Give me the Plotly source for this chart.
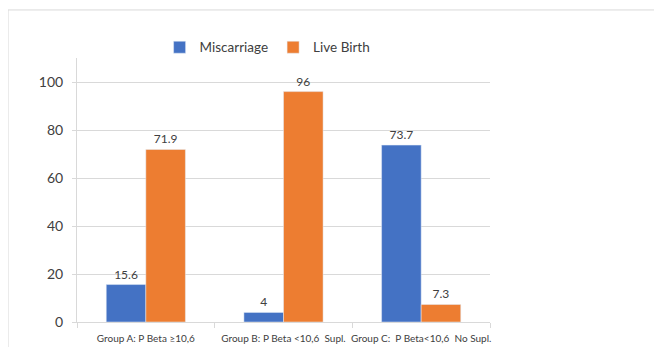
import plotly.graph_objects as go

categories = ["Group A: P Beta \u226510,6",
              "Group B: P Beta <10,6\u00a0\u00a0Supl.",
              "Group C:\u00a0\u00a0P Beta<10,6\u00a0\u00a0No Supl."]
miscarriage = [15.6, 4, 73.7]
live_birth = [71.9, 96, 7.3]
mis_labels = ["15.6", "4", "73.7"]
live_labels = ["71.9", "96", "7.3"]

FONT = "Lato, 'Open Sans', sans-serif"

fig = go.Figure()
fig.add_trace(go.Bar(x=categories, y=miscarriage, name="Miscarriage",
                     marker_color="#4472C4", text=mis_labels, textposition="outside",
                     textfont=dict(size=12, color="#404040"), cliponaxis=False))
fig.add_trace(go.Bar(x=categories, y=live_birth, name="Live Birth",
                     marker_color="#ED7D31", text=live_labels, textposition="outside",
                     textfont=dict(size=12, color="#404040"), cliponaxis=False))

fig.update_layout(
    width=662, height=347,
    margin=dict(l=69, r=180, t=50, b=33),
    paper_bgcolor="white", plot_bgcolor="white",
    barmode="group", bargap=0.425, bargroupgap=0,
    font=dict(family=FONT, color="#404040"),
    showlegend=True,
    legend=dict(orientation="h", x=0.20, y=1.04, xanchor="left", yanchor="middle",
                font=dict(size=13.5, color="#404040"), itemwidth=30, tracegroupgap=0,
                bgcolor="rgba(0,0,0,0)"),
    xaxis=dict(showline=True, linecolor="#d9d9d9", linewidth=1,
               ticks="outside", tickson="boundaries", ticklen=5, tickcolor="#d9d9d9",
               tickangle=0, automargin=False, ticklabelstandoff=7,
               tickfont=dict(size=10, color="#404040"), showgrid=False),
    yaxis=dict(range=[0, 110], dtick=20, tick0=0, showline=True, linecolor="#d9d9d9",
               gridcolor="#d9d9d9", zeroline=False, ticks="outside", ticklen=4,
               automargin=False, ticklabelstandoff=6,
               tickcolor="#d9d9d9", tickfont=dict(size=14, color="#404040")),
    shapes=[dict(type="rect", xref="paper", yref="paper",
                 x0=-0.167, x1=1.45, y0=-0.12, y1=1.182,
                 line=dict(color="#d9d9d9", width=1), fillcolor="rgba(0,0,0,0)",
                 layer="below")],
)

fig.write_html("out.html")
